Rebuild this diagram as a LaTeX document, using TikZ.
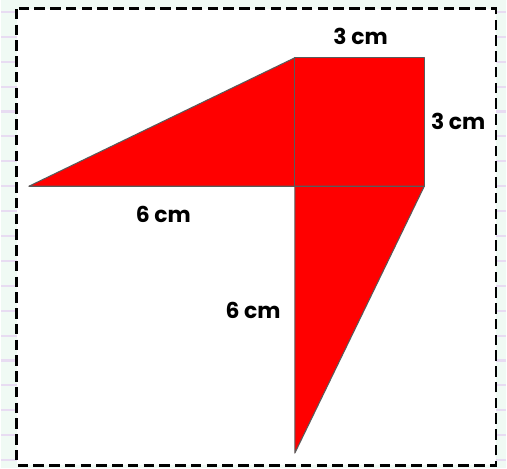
\documentclass[tikz,border=0pt]{standalone}
\usepackage{fontspec}
\setmainfont{Poppins}
\definecolor{paper}{RGB}{240,250,244}
\definecolor{ruling}{RGB}{232,220,242}
\definecolor{edge}{RGB}{90,90,90}
\begin{document}
\begin{tikzpicture}[x=0.02cm, y=-0.02cm,
    lbl/.style={font=\fontsize{12.5}{14}\selectfont\bfseries, inner sep=0pt},
    face/.style={fill=red, draw=edge, line width=0.6pt, line join=round}]
    % 背景
    \fill[paper] (0,0) rectangle (507,470);
    \foreach \y in {12,37,...,462}
        \draw[ruling, line width=1.2pt] (0,\y) -- (507,\y);
    \fill[white] (16,9) rectangle (497,467);
    \draw[line width=1.7pt, dash pattern=on 6pt off 3pt] (16,9) rectangle (497,467);
    \useasboundingbox (0,0) rectangle (507,470);

    % 顶点
    \coordinate (A) at (28,187);
    \coordinate (B) at (295,58);
    \coordinate (C) at (425,58);
    \coordinate (D) at (425,187);
    \coordinate (E) at (295,187);
    \coordinate (F) at (295,455);

    % 三角形和正方形
    \filldraw[face] (A) -- (B) -- (E) -- cycle;
    \filldraw[face] (B) -- (C) -- (D) -- (E) -- cycle;
    \filldraw[face] (E) -- (D) -- (F) -- cycle;

    % 边长标注
    \node[lbl] (top) at (361,37) {3~cm};
    \node[lbl] (right) at (459,122) {3~cm};
    \node[lbl] (left) at (163,215) {6~cm};
    \node[lbl] (down) at (253,312) {6~cm};
\end{tikzpicture}
\end{document}
